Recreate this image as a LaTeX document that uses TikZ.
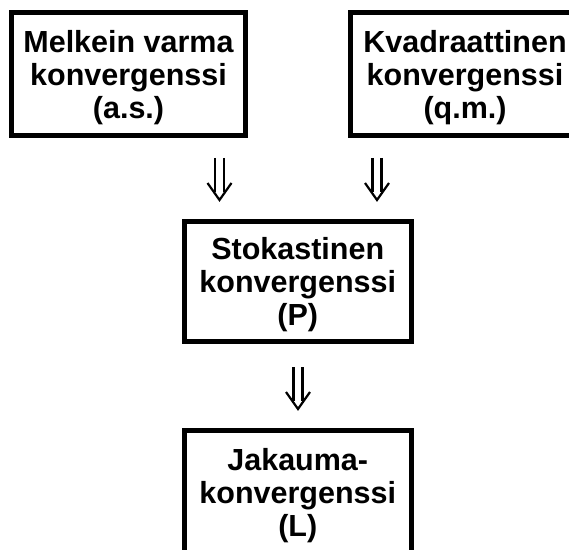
\documentclass[tikz,border=0pt]{standalone}
\usepackage{fontspec}
\setmainfont{Liberation Sans}
\usepackage{tikz}

\tikzset{
  conv/.style={draw, line width=5pt, inner sep=0pt, align=center, text depth=0pt,
    font=\bfseries\fontsize{30.5}{33}\selectfont},
  dnarrow/.pic={
    \draw[line width=2.2pt] (-4.5,0) -- (-4.5,-34) (4.5,0) -- (4.5,-34);
    \draw[line width=2.2pt] (-12,-25) -- (0,-42) -- (12,-25);
  }
}

\begin{document}
\begin{tikzpicture}[x=1pt, y=1pt]
            \useasboundingbox (0,0) rectangle (569,549);
            \clip (0,0) rectangle (569,549);

            % top row
            \node[conv, minimum width=234, minimum height=123] (as) at (128.5,475)
              {Melkein varma\\konvergenssi\\(a.s.)};
            \node[conv, minimum width=229, minimum height=123] (qm) at (465,475)
              {Kvadraattinen\\konvergenssi\\(q.m.)};

            % middle
            \node[conv, minimum width=226.5, minimum height=119.5] (p) at (297.75,267.75)
              {Stokastinen\\konvergenssi\\(P)};

            % bottom
            \node[conv, minimum width=226.5, minimum height=123] (l) at (297.75,57)
              {Jakauma-\\konvergenssi\\(L)};

            % implications
            \coordinate (asp) at (219.5,391);
            \coordinate (qmp) at (377,391);
            \coordinate (pl) at (298,182);
            \pic at (asp) {dnarrow};
            \pic at (qmp) {dnarrow};
            \pic at (pl) {dnarrow};
\end{tikzpicture}
\end{document}
